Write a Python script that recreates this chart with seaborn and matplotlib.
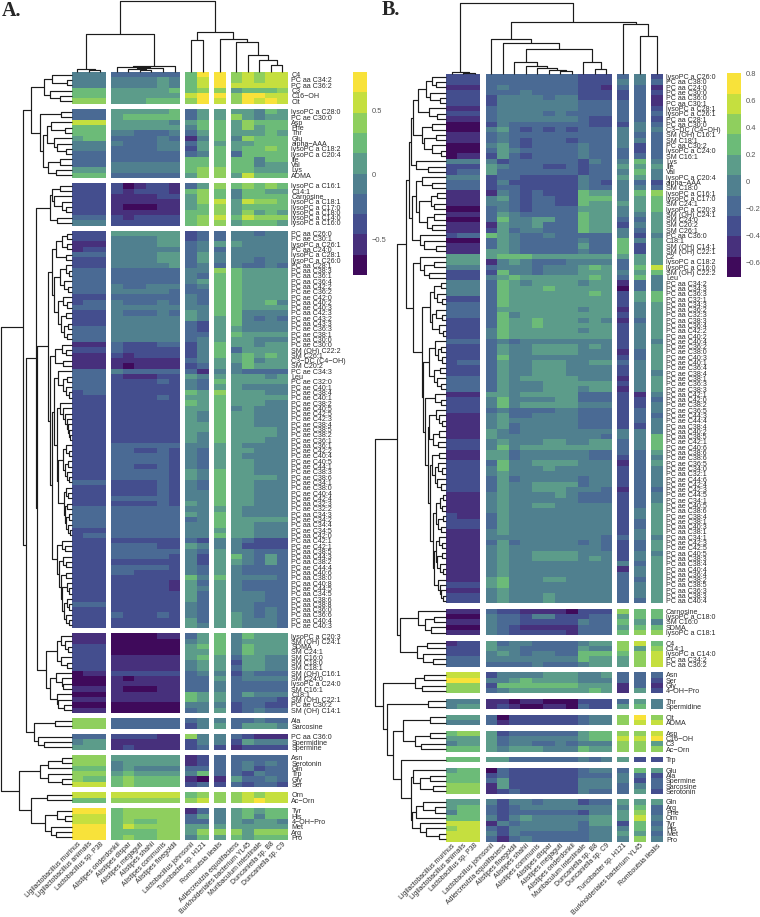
import numpy as np
import pandas as pd
import seaborn as sns
import matplotlib
matplotlib.use('Agg')
import matplotlib.pyplot as plt
from matplotlib.collections import LineCollection
from matplotlib.colors import ListedColormap

# ten colour bins, dark to light
BIN_COLORS = ['#3F0A5B', '#47307C', '#444E8E', '#4A6A94', '#50808F',
              '#5C9C8A', '#6CBB78', '#8FCF5E', '#C5DF3F', '#F8E23A']
A_BIN_VALUES = [-0.70, -0.54, -0.39, -0.23, -0.07, 0.09, 0.25, 0.41, 0.56, 0.72]
B_BIN_VALUES = [-0.63, -0.48, -0.33, -0.18, -0.03, 0.12, 0.27, 0.42, 0.57, 0.72]
A_TICKS = [-0.5, 0, 0.5]
A_TICK_LABELS = ['\u22120.5', '0', '0.5']
B_TICKS = [-0.6, -0.4, -0.2, 0, 0.2, 0.4, 0.6, 0.8]
B_TICK_LABELS = ['\u22120.6', '\u22120.4', '\u22120.2', '0', '0.2', '0.4', '0.6', '0.8']

A_COLUMNS = ['Ligilactobacillus murinus', 'Ligilactobacillus animalis', 'Lactobacillus sp. P38',
             'Alistipes onderdonkii', 'Alistipes dispar', 'Alistipes megaguti', 'Alistipes shahii',
             'Alistipes communis', 'Alistipes finegoldii', 'Lactobacillus johnsonii',
             'Turicibacter sp. H121', 'Romboutsia ilealis', 'Adlercreutzia equolifaciens',
             'Burkholderiales bacterium YL45', 'Muribaculum intestinale', 'Duncaniella sp. B8',
             'Duncaniella sp. C9']
B_COLUMNS = ['Ligilactobacillus murinus', 'Ligilactobacillus animalis', 'Lactobacillus sp. P38',
             'Lactobacillus johnsonii', 'Adlercreutzia equolifaciens', 'Alistipes finegoldii',
             'Alistipes shahii', 'Alistipes communis', 'Alistipes dispar', 'Alistipes megaguti',
             'Alistipes onderdonkii', 'Muribaculum intestinale', 'Duncaniella sp. B8',
             'Duncaniella sp. C9', 'Turicibacter sp. H121', 'Burkholderiales bacterium YL45',
             'Romboutsia ilealis']

# panel A, rows per cluster, one digit = colour bin of a cell
A_LABELS_1 = ['C4', 'PC aa C34:2', 'PC aa C36:2', 'C3', 'C16\u2212OH', 'Cit']
A_CELLS_1 = ['444 333333 69 9 78788', '444 444454 68 9 78788', '444 444454 68 9 88888',
             '666 555556 67 7 56667', '666 555555 89 9 79988', '777 555666 79 8 79898']
A_LABELS_2 = ['lysoPC a C28:0', 'PC ae C30:0', 'Asp', 'Phe', 'Thr', 'Glu', 'alpha\u2212AAA',
              'lysoPC a C18:2', 'lysoPC a C20:4', 'Ile', 'Val', 'Lys', 'ADMA']
A_CELLS_2 = ['333 555556 35 5 55465', '333 566666 35 5 75455', '888 555554 56 6 57666',
             '666 555555 46 6 57566', '666 443334 35 6 55565', '566 333343 14 6 47666',
             '444 433344 35 5 55666', '444 333344 25 6 56676', '333 333333 34 6 36666',
             '333 333333 66 6 66466', '333 444444 66 6 66455', '555 444444 67 7 66555',
             '666 333333 57 7 58666']
A_LABELS_3 = ['lysoPC a C16:1', 'C14:1', 'Carnosine', 'lysoPC a C18:1', 'lysoPC a C17:0',
              'lysoPC a C18:0', 'lysoPC a C14:0', 'lysoPC a C16:0']
A_CELLS_3 = ['222 201221 35 7 67676', '222 212221 67 6 46655', '222 111122 57 6 46666',
             '222 111111 57 8 58776', '222 100011 56 7 56666', '222 111111 66 7 57565',
             '333 212222 67 8 68777', '444 222222 67 7 56665']
A_LABELS_4 = ['PC aa C26:0', 'PC ae C30:1', 'lysoPC a C26:1', 'PC aa C24:0', 'lysoPC a C28:1',
              'lysoPC a C26:0', 'PC aa C28:1', 'PC aa C38:3', 'PC aa C36:1', 'PC aa C36:4',
              'PC aa C42:2', 'PC ae C36:2', 'PC ae C42:0', 'PC aa C40:2', 'PC ae C40:3',
              'PC aa C42:3', 'PC ae C43:2', 'PC aa C43:3', 'PC ae C36:3', 'PC ae C38:1',
              'PC aa C30:0', 'PC ae C30:0', 'SM (OH) C22:2', 'SM C26:1', 'C3\u2212DC (C4\u2212OH)',
              'SM C20:2', 'PC ae C34:3', 'Leu', 'PC ae C32:0', 'PC ae C40:1',
              'PC ae C38:4', 'PC ae C40:1', 'PC ae C38:2', 'PC ae C40:5', 'PC ae C42:5',
              'PC ae C42:3', 'PC ae C38:4', 'PC ae C38:5', 'PC ae C38:2', 'PC ae C36:1',
              'PC aa C36:1', 'PC ae C42:2', 'PC ae C40:4', 'PC ae C40:5', 'PC ae C44:1',
              'PC ae C38:3', 'PC ae C38:6', 'PC ae C34:1', 'PC ae C38:0', 'PC ae C40:4',
              'PC ae C42:4', 'PC aa C32:3', 'PC ae C32:2', 'PC aa C34:3', 'PC ae C34:2',
              'PC aa C34:4', 'PC ae C34:5', 'PC aa C42:0', 'PC aa C42:1', 'PC ae C42:1',
              'PC aa C38:5', 'PC aa C44:3', 'PC aa C38:2', 'PC ae C44:4', 'PC aa C40:6',
              'PC aa C38:0', 'PC aa C40:8', 'PC ae C44:5', 'PC aa C34:5', 'PC aa C38:6',
              'PC aa C38:8', 'PC aa C36:0', 'PC aa C36:6', 'PC aa C40:4', 'PC ae C40:3']
A_CELLS_4 = ['222 555555 23 3 44344', '222 444455 23 3 44444', '111 444455 34 5 54444',
             '122 444444 34 3 44444', '333 444455 35 4 44444', '222 444455 35 4 44344',
             '222 444445 34 3 43343', '333 333333 44 7 65555', '333 333333 43 6 65555',
             '333 333333 45 6 65555', '333 433444 34 6 65555', '333 444443 33 6 65555',
             '222 333333 43 6 65555', '233 433343 43 6 65564', '333 444444 44 6 65555',
             '222 433343 54 6 64444', '222 444444 54 5 64343', '222 444444 32 5 64444',
             '333 444444 32 5 54444', '333 444444 33 5 65555', '333 444444 34 5 55444',
             '111 322233 24 6 55455', '222 322222 24 6 35555', '111 212222 24 6 56565',
             '111 111111 34 5 56455', '111 101111 23 5 46555', '333 433333 31 4 43333',
             '333 211122 54 5 55545', '333 222232 43 6 55555', '333 222222 43 5 54444',
             '233 222222 65 7 55544', '222 222232 55 6 55555', '222 222222 65 6 55544',
             '222 222222 55 6 45444', '222 222222 54 6 55444', '222 222222 54 6 55444',
             '222 222222 55 6 55444', '222 222222 55 6 55554', '222 222222 54 6 55554',
             '222 222222 54 6 55544', '222 333333 44 5 54444', '222 332232 43 5 55444',
             '222 333332 43 5 54444', '222 333332 43 5 55444', '222 332232 43 5 55444',
             '222 333332 54 6 55444', '222 333332 54 6 55554', '333 222232 43 6 55444',
             '222 222232 43 6 55444', '222 222232 44 6 55444', '222 333332 44 6 55444',
             '222 222232 54 6 55444', '333 333333 44 5 54444', '333 333333 54 6 54444',
             '333 333333 34 6 55555', '333 333333 44 6 55444', '222 333333 44 5 55444',
             '233 333333 44 6 55444', '222 222222 32 4 43222', '222 333322 54 4 42222',
             '222 333333 43 5 44333', '222 333332 42 5 64353', '222 222222 42 5 54353',
             '222 333332 43 5 43333', '222 332222 43 5 43333', '222 222222 64 6 44443',
             '222 222221 53 5 43333', '222 222221 54 5 43333', '222 222222 53 5 44433',
             '222 222222 53 5 44433', '333 222222 43 5 44333', '222 222222 43 5 44343',
             '222 322232 43 5 54343', '222 222222 53 5 54443', '222 222222 54 5 54443']
A_LABELS_5 = ['lysoPC a C20:3', 'SM (OH) C24:1', 'SDMA', 'SM C24:1', 'SM C16:0', 'SM C18:0',
              'SM C18:1', 'SM (OH) C16:1', 'SM C24:0', 'lysoPC a C24:0', 'SM C16:1', 'C18:1',
              'SM (OH) C22:1', 'PC ae C30:2', 'SM (OH) C14:1']
A_CELLS_5 = ['111 000011 35 6 46555', '111 000000 45 6 45555', '222 000000 56 6 46555',
             '222 000000 55 6 46555', '222 111111 56 5 35544', '222 111111 45 5 25544',
             '222 111111 45 5 35544', '011 222222 34 4 24333', '000 101111 33 5 34444',
             '000 111111 33 4 33333', '111 100011 33 4 33333', '000 111111 65 5 35444',
             '111 111111 65 5 33332', '000 000000 44 4 23322', '111 000000 34 5 23433']
A_LABELS_6 = ['Ala', 'Sarcosine']
A_CELLS_6 = ['777 333333 34 4 33433', '777 333333 24 5 35554']
A_LABELS_7 = ['PC aa C36:0', 'Spermidine', 'Spermine']
A_CELLS_7 = ['333 222211 74 4 32111', '455 111111 24 4 25444', '555 121111 23 2 12222']
A_LABELS_8 = ['Asn', 'Serotonin', 'Gln', 'Trp', 'Gly', 'Ser']
A_CELLS_8 = ['777 555555 12 3 33333', '777 455555 12 3 34343', '666 454444 33 3 34233',
             '777 565555 46 3 32433', '766 676666 10 1 53343', '888 676666 23 2 32332']
A_LABELS_9 = ['Orn', 'Ac\u2212Orn']
A_CELLS_9 = ['888 888888 67 7 78788', '666 777777 78 7 78988']
A_LABELS_10 = ['Tyr', 'His', '4\u2212OH\u2212Pro', 'Met', 'Arg', 'Pro']
A_CELLS_10 = ['999 677777 13 4 56566', '888 677777 35 4 56466', '888 676677 33 4 54554',
              '999 687777 55 5 55555', '999 666677 57 7 75777', '999 676677 46 5 65666']

# panel B
B_LABELS_1 = ['lysoPC a C26:0', 'PC aa C38:0', 'PC aa C24:0', 'PC ae C30:0', 'PC aa C36:0',
              'PC aa C30:1', 'lysoPC a C28:1', 'lysoPC a C26:1', 'PC aa C28:1', 'PC aa C30:0',
              'C3\u2212DC (C4\u2212OH)', 'SM (OH) C16:1', 'SM C18:1', 'PC aa C30:2', 'lysoPC a C24:0',
              'SM C16:1', 'Lys', 'Ile', 'Val', 'lysoPC a C20:4', 'alpha\u2212AAA', 'SM C18:0',
              'lysoPC a C16:1', 'lysoPC a C17:0', 'SM C24:1', 'lysoPC a C20:3', 'SM (OH) C24:1',
              'SM C24:0', 'SM C20:2', 'SM C26:1', 'PC aa C36:0', 'C18:1', 'SM (OH) C14:1',
              'SM (OH) C22:1', 'C2', 'lysoPC a C18:2', 'lysoPC a C16:0', 'SM (OH) C22:2', 'Leu',
              'PC aa C34:2', 'PC aa C34:3', 'PC aa C36:3', 'PC aa C32:1', 'PC aa C34:3',
              'PC aa C36:2', 'PC aa C32:3', 'PC aa C38:3', 'PC aa C36:4', 'PC aa C42:2',
              'PC aa C40:2', 'PC ae C40:4', 'PC ae C36:2', 'PC ae C38:0', 'PC ae C40:3',
              'PC ae C40:1', 'PC ae C36:4', 'PC ae C38:4', 'PC ae C38:1', 'PC ae C36:3',
              'PC ae C38:3', 'PC aa C42:1', 'PC aa C42:0', 'PC ae C38:2', 'PC ae C36:5',
              'PC ae C44:3', 'PC ae C44:4', 'PC aa C38:4', 'PC aa C40:2', 'PC aa C38:5',
              'PC ae C42:1', 'PC ae C40:6', 'PC aa C38:6', 'PC ae C38:6', 'PC ae C36:5',
              'PC ae C34:0', 'PC aa C32:1', 'PC ae C44:6', 'PC ae C42:4', 'PC ae C42:3',
              'PC ae C44:5', 'PC ae C34:1', 'PC ae C40:5', 'PC aa C38:6', 'PC ae C38:4',
              'PC ae C38:1', 'PC aa C40:3', 'PC aa C38:1', 'PC aa C34:1', 'PC ae C42:3',
              'PC ae C42:5', 'PC aa C40:5', 'PC aa C38:3', 'PC aa C38:4', 'PC aa C40:4',
              'PC aa C36:4', 'PC ae C38:2', 'PC aa C38:5', 'PC aa C36:3', 'PC aa C38:3',
              'PC aa C40:4']
B_CELLS_1 = ['222 33333333222 3 4 2', '222 33333333222 4 4 3', '111 34333333221 3 3 1',
             '222 33343333222 2 3 2', '222 24444344222 2 3 1', '222 24444444333 3 3 1',
             '111 34444444333 3 3 2', '222 34444343333 3 3 3', '111 34444444322 3 3 2',
             '000 24333333322 2 4 3', '000 45323232333 4 4 4', '111 34333333333 4 3 3',
             '111 34323332333 4 4 3', '000 45323333433 4 2 3', '000 35433333433 3 2 3',
             '011 25323333433 3 3 3', '444 42333333243 4 6 4', '222 54333223233 5 5 5',
             '233 53333333233 4 6 4', '444 23322222433 5 5 4', '333 24222222432 4 3 2',
             '333 23322222433 4 4 3', '111 14323222655 4 6 7', '111 45323322666 4 5 6',
             '111 44323322655 5 5 6', '000 34323333555 4 5 6', '111 35433333655 4 4 5',
             '000 36445533655 3 3 5', '111 15445333655 2 4 5', '111 25344333655 4 3 5',
             '233 65433433333 4 2 4', '000 35433333433 6 4 5', '111 35433333533 6 2 5',
             '111 55433333433 6 2 5', '555 56665555555 5 5 5', '555 14543334444 3 5 5',
             '444 34443444565 3 6 8', '222 26443444555 4 5 6', '222 45655555565 3 6 4',
             '444 36545555455 1 3 4', '444 36555655555 0 3 4', '444 36555555565 2 5 6',
             '222 36555555555 2 5 6', '333 36555555555 2 4 5', '333 35555555455 1 4 5',
             '333 36455555555 2 4 5', '222 36556555454 1 3 5', '222 36556555555 2 4 5',
             '222 46555555455 2 4 5', '222 46555555555 2 4 5', '333 34344444444 2 4 4',
             '222 35445555454 2 4 5', '222 35445555444 1 3 5', '222 36444444444 2 3 5',
             '233 35445554455 3 4 5', '222 35445554444 2 4 5', '222 35445554444 2 4 4',
             '333 35455555444 1 4 5', '333 35444555555 2 4 5', '333 35444555455 1 4 5',
             '111 55455555333 2 1 4', '222 46444455333 2 2 3', '222 46455555444 2 2 4',
             '222 34333344333 2 3 4', '111 45334444333 2 3 3', '111 45444444333 2 3 4',
             '111 45344444333 2 2 4', '111 54344444444 4 4 4', '111 54444444443 4 4 6',
             '222 45444554455 3 4 6', '222 46455555555 3 4 6', '111 55344444433 3 3 5',
             '111 55344444433 2 3 4', '222 36445555444 1 3 5', '222 46444544444 2 3 4',
             '222 45444444444 2 3 4', '222 35344444344 2 3 4', '222 35445555344 2 3 4',
             '222 35445554443 1 3 3', '111 45444454333 2 3 4', '111 45444444333 2 3 4',
             '111 45445544444 2 3 5', '111 45444444444 2 4 5', '211 35444444444 2 4 5',
             '222 35444444444 2 3 5', '222 35444444444 2 3 5', '111 45444444444 2 4 5',
             '111 44444444443 3 4 4', '111 35344444343 2 3 5', '111 45444444443 2 3 5',
             '111 45445555444 2 4 4', '111 45445555454 2 4 5', '111 45444444444 4 3 5',
             '111 45444444444 1 4 5', '111 45444444444 3 4 5', '111 56444554444 3 3 5',
             '222 56444444444 3 4 5', '111 45444444444 3 4 5', '222 45444544444 3 4 5',
             '222 45444544444 3 3 5']
B_LABELS_2 = ['Carnosine', 'lysoPC a C18:0', 'SM C16:0', 'SDMA', 'lysoPC a C18:1']
B_CELLS_2 = ['111 32211110222 7 6 6', '000 43324422233 5 6 6', '111 43322222433 6 5 4',
             '000 43211111333 5 6 6', '111 43222221333 6 7 7']
B_LABELS_3 = ['C4', 'C14:1', 'lysoPC a C14:0', 'PC aa C34:2', 'PC aa C36:2']
B_CELLS_3 = ['122 53443333455 7 8 6', '222 54433333544 7 5 7', '222 45434433666 6 7 8',
             '333 44444444655 5 7 8', '333 33334333455 5 7 8']
B_LABELS_4 = ['Asn', 'Ser', 'Gly', '4\u2212OH\u2212Pro']
B_CELLS_4 = ['888 24444555445 3 3 3', '999 44565555444 3 3 2', '777 26666666555 1 3 1',
             '777 34555555565 1 5 2']
B_LABELS_5 = ['Thr', 'Spermidine']
B_CELLS_5 = ['444 11011000222 3 5 4', '455 12100110322 5 6 4']
B_LABELS_6 = ['Cit', 'ADMA']
B_CELLS_6 = ['555 30222222344 7 9 7', '444 31222222344 7 8 8']
B_LABELS_7 = ['Asp', 'C16\u2212OH', 'C3', 'Ac\u2212Orn']
B_CELLS_7 = ['677 52333333566 7 7 8', '555 53444444566 8 8 9', '455 53443343444 7 7 5',
             '666 54555444655 7 7 7']
B_LABELS_8 = ['Trp']
B_CELLS_8 = ['666 55333333434 5 2 2']
B_LABELS_9 = ['Glu', 'Ala', 'Spermine', 'Sarcosine', 'Serotonin']
B_CELLS_9 = ['566 03222222344 3 6 5', '666 23222222333 4 3 2', '666 35222222444 4 2 3',
             '777 15222222444 3 4 3', '777 12322222433 3 5 2']
B_LABELS_10 = ['Gln', 'Arg', 'Phe', 'Orn', 'Tyr', 'His', 'Met', 'Pro']
B_CELLS_10 = ['555 42443444233 5 5 5', '566 32344444444 4 6 3', '466 32333333244 5 7 3',
              '666 42454444455 5 8 4', '888 14344444355 2 6 3', '788 32444444344 4 6 4',
              '888 42433333344 5 5 3', '888 31343333344 4 7 4']

# dendrograms: [height, left, right], 0 is a leaf, heights in picture pixels
A_COL_TREE = [70.7, [38, [3, 0, [1.3, 0, 0]],
                     [6, [4.5, 0, [3.5, [2.5, 0, [1.2, 0, 0]], 0]], 0]],
              [40, [32, 0, 0], [33, 0, [29.5, 0, [17, 0, [12, 0, [7, 0, 0]]]]]]]
B_COL_TREE = [70.7, [2, 0, [1, 0, 0]],
              [52, [35, 0, [31, 0, [25, [12, 0, [7.3, 0, [5.7, 0, [4, 0, [2.7, 0, 0]]]]],
                                    [12, 0, [4.5, 0, 0]]]]],
               [50, 0, [38, 0, 0]]]]

A_TREE_1 = [28, [20, 0, [5, 0, 0]], [22, 0, [12, 0, 0]]]
A_TREE_2 = [32, [11, 0, 0], [29, [25, [21, 0, [7, 0, 0]], [18, 0, [15, 0, [6, 0, 0]]]],
                             [24, [12, 0, 0], [16, 0, 0]]]]
A_TREE_3 = [22, [20, [12, 0, 0], [18, 0, [10, 0, [6, 0, 0]]]], [15, 0, 0]]
A_TREE_4 = [24,
            [20, [16, [10, [5, 0, 0], [5, 0, 0]], [6, 0, 0]],
             [18, [12, [6, 0, [3, 0, 0]], [8, 0, [4, 0, 0]]],
              [14, [9, 0, [5, 0, 0]], [11, [6, 0, 0], [8, [4, 0, 0], [5, 0, 0]]]]]],
            [22, [17, [10, 0, [6, 0, 0]], [9, 0, 0]],
             [20, [18, [14, 0, [9, [5, 0, 0], [6, 0, [3, 0, 0]]]],
                   [15, [12, 0, [9, 0, [7, 0, [5, 0, [4, 0, [3, 0, [2, 0, 0]]]]]]],
                    [13.5, [9, [6, 0, [3, 0, 0]], [7, [4, 0, 0], [5, 0, [3, 0, 0]]]],
                     [8, [6, 0, [4, 0, 0]], [7, [5, 0, 0], [6, [3, 0, 0], [4, 0, [2, 0, 0]]]]]]]],
              [15, [10, 0, [7, 0, 0]],
               [13, [9, 0, [6, 0, 0]],
                [11, [6, 0, 0], [9.5, [5, 0, [3, 0, 0]],
                                 [8, [5, 0, [3, 0, 0]], [6, 0, [3, 0, 0]]]]]]]]]]
A_TREE_5 = [26, [15, [11, 0, [7, 0, [4, 0, 0]]], [11, 0, [5, 0, 0]]],
            [22, [16, 0, [10, 0, [9, 0, 0]]], [15, 0, [14, 0, [8, 0, 0]]]]]
A_TREE_6 = [17, 0, 0]
A_TREE_7 = [34, 0, [28, 0, 0]]
A_TREE_8 = [32, [24, [10, 0, 0], 0], [24, 0, [10, 0, 0]]]
A_TREE_9 = [25, 0, 0]
A_TREE_10 = [27, [15, 0, [7, 0, 0]], [21, 0, [16, 0, 0]]]
A_ROW_TREE = [70.7,
              [49, [41, A_TREE_1, A_TREE_2],
               [46, [36, A_TREE_3, [35, A_TREE_4, A_TREE_5]], [38, A_TREE_6, A_TREE_7]]],
              [52.4, A_TREE_8, [40.7, A_TREE_9, A_TREE_10]]]

B_TREE_1 = [40,
            [37,
             [35, [33, [28, [20, [14, 0, [10, 0, 0]], [16, 0, [6, 0, 0]]], [17, 0, [9, 0, 0]]],
                   [24, [14, 0, 0], [22, [10, 0, 0], [14, 0, [5, 0, 0]]]]],
              [30, 0, [18, 0, 0]]],
             [34, [30, [24, 0, [14, 0, 0]],
                   [27, [15, [9, 0, 0], [12, 0, 0]], [19, [12, 0, 0], [14, 0, 0]]]],
              [26, 0, [22, 0, [10, 0, 0]]]]],
            [33, [26, 0, [22, [12, 0, 0], [17, 0, 0]]],
             [24, [16, [12, [5, 0, 0], [9, 0, [4, 0, 0]]], [14, [10, 0, [4, 0, 0]], [7, 0, [3, 0, 0]]]],
              [23, [17, [11, 0, [8, [5, 0, 0], [4, 0, 0]]], [12, [6, 0, 0], [9, 0, [5, 0, 0]]]],
               [21, [11, 0, [5, 0, 0]],
                [18, [17, [10, 0, [7, 0, [4, 0, 0]]], [13, [7, 0, 0], [8, 0, 0]]],
                 [16.5, [14, [7, 0, 0], [11, [8, 0, [4, 0, 0]], [9, 0, [5, 0, 0]]]],
                  [13, [10, [6, [3, 0, 0], [4, 0, 0]], [8, [3, 0, 0], [5, 0, 0]]],
                   [12, [10, [7, 0, [4, 0, 0]], [9, [4, 0, 0], [6, 0, [3, 0, 0]]]],
                    [8, 0, [6, 0, [5, 0, [3, 0, 0]]]]]]]]]]]]]
B_TREE_2 = [28, 0, [21, [12, 0, 0], [15, 0, 0]]]
B_TREE_3 = [29, [19, 0, 0], [23, 0, [13, 0, 0]]]
B_TREE_4 = [31, [22, 0, 0], [24, 0, 0]]
B_TREE_5 = [18, 0, 0]
B_TREE_6 = [16, 0, 0]
B_TREE_7 = [31, [16, 0, 0], [25, 0, 0]]
B_TREE_9 = [33, 0, [26, [16, 0, 0], [13, 0, 0]]]
B_TREE_10 = [34, [30, [23, 0, [11, 0, 0]], 0], [26, 0, [20, 0, [7, 0, 0]]]]
B_ROW_TREE = [71,
              [49.3, B_TREE_1, [46, B_TREE_2, B_TREE_3]],
              [63.3, B_TREE_4,
               [59, B_TREE_5, [53, [43, B_TREE_6, B_TREE_7],
                               [45, 0, [35, B_TREE_9, B_TREE_10]]]]]]

W, H = 760, 917


def to_frame(cell_blocks, label_blocks, bin_values, columns):
    # stack clusters with one empty row between them
    rows, labels = [], []
    for i, (cells, names) in enumerate(zip(cell_blocks, label_blocks)):
        if i > 0:
            rows.append([np.nan] * len(columns))
            labels.append('')
        for c, name in zip(cells, names):
            digits = c.replace(' ', '')
            rows.append([bin_values[int(d)] for d in digits])
            labels.append(name)
    return pd.DataFrame(rows, index=labels, columns=columns)


def px_axes(fig, x0, y0, x1, y1):
    return fig.add_axes([x0 / W, 1 - y1 / H, (x1 - x0) / W, (y1 - y0) / H])


def tree_segments(node, leaves, base, vertical, segs):
    # walk the tree, leaves are taken in order from the list of positions
    if node == 0:
        return leaves.pop(0), 0
    a, ha = tree_segments(node[1], leaves, base, vertical, segs)
    b, hb = tree_segments(node[2], leaves, base, vertical, segs)
    h = node[0]
    if vertical:
        segs.append([(a, base - ha), (a, base - h), (b, base - h), (b, base - hb)])
    else:
        segs.append([(base - ha, a), (base - h, a), (base - h, b), (base - hb, b)])
    return (a + b) / 2, h


def draw_panel(fig, overlay, df, vmin, vmax, col_blocks, top, bottom, row_tree, col_tree,
               cbar_box, ticks, tick_labels):
    cmap = ListedColormap(BIN_COLORS)
    col_pos = []
    start = 0
    for n, (x0, x1, size) in enumerate(col_blocks):
        ax = px_axes(fig, x0, top, x1, bottom)
        sub = df.iloc[:, start:start + size]
        last = n == len(col_blocks) - 1
        sns.heatmap(sub, ax=ax, cmap=cmap, vmin=vmin, vmax=vmax, cbar=False,
                    xticklabels=True, yticklabels=list(df.index) if last else False)
        ax.tick_params(length=0, labelsize=5.1, pad=0.5)
        ax.set_xticklabels(sub.columns, rotation=45, ha='right', rotation_mode='anchor',
                           fontsize=4.95, color='#2a2a2a')
        if last:
            ax.yaxis.tick_right()
            ax.set_yticklabels(df.index, rotation=0, fontsize=5.1, color='#2a2a2a')
            ax.tick_params(axis='y', length=0, pad=2.4)
        step = (x1 - x0) / size
        col_pos += [x0 + step * (k + 0.5) for k in range(size)]
        start += size

    # legend bar, drawn by a throwaway heatmap so that it shares cmap and limits
    cax = px_axes(fig, *cbar_box)
    holder = fig.add_axes([0, 0, 0.001, 0.001])
    sns.heatmap(df.iloc[:2, :2], ax=holder, cmap=cmap, vmin=vmin, vmax=vmax, cbar_ax=cax,
                cbar_kws={'ticks': ticks}, xticklabels=False, yticklabels=False)
    holder.set_visible(False)
    cax.set_yticklabels(tick_labels, fontsize=5.4, color='#555555')
    cax.tick_params(length=0, pad=3.5)
    for s in cax.spines.values():
        s.set_visible(False)

    rh = (bottom - top) / len(df)
    row_pos = [top + rh * (i + 0.5) for i, name in enumerate(df.index) if name != '']
    segs = []
    tree_segments(row_tree, list(row_pos), col_blocks[0][0], False, segs)
    tree_segments(col_tree, list(col_pos), top - 0.5, True, segs)
    overlay.add_collection(LineCollection(segs, colors='#1c1c1c', linewidths=0.85))


sns.set_style('white')
plt.rcParams['font.family'] = ['Liberation Sans', 'DejaVu Sans']

fig = plt.figure(figsize=(W / 100, H / 100), dpi=100)
overlay = fig.add_axes([0, 0, 1, 1], zorder=5)
overlay.set_xlim(0, W)
overlay.set_ylim(H, 0)
overlay.axis('off')

df_a = to_frame([A_CELLS_1, A_CELLS_2, A_CELLS_3, A_CELLS_4, A_CELLS_5,
                 A_CELLS_6, A_CELLS_7, A_CELLS_8, A_CELLS_9, A_CELLS_10],
                [A_LABELS_1, A_LABELS_2, A_LABELS_3, A_LABELS_4, A_LABELS_5,
                 A_LABELS_6, A_LABELS_7, A_LABELS_8, A_LABELS_9, A_LABELS_10],
                A_BIN_VALUES, A_COLUMNS)
df_b = to_frame([B_CELLS_1, B_CELLS_2, B_CELLS_3, B_CELLS_4, B_CELLS_5,
                 B_CELLS_6, B_CELLS_7, B_CELLS_8, B_CELLS_9, B_CELLS_10],
                [B_LABELS_1, B_LABELS_2, B_LABELS_3, B_LABELS_4, B_LABELS_5,
                 B_LABELS_6, B_LABELS_7, B_LABELS_8, B_LABELS_9, B_LABELS_10],
                B_BIN_VALUES, B_COLUMNS)

draw_panel(fig, overlay, df_a, -0.78, 0.80,
           [(71.7, 106, 3), (111, 180.3, 6), (185.3, 208.7, 2), (213.7, 225.7, 1), (230.7, 288, 5)],
           72, 840, A_ROW_TREE, A_COL_TREE, (353.3, 72, 366.7, 275), A_TICKS, A_TICK_LABELS)
draw_panel(fig, overlay, df_b, -0.71, 0.80,
           [(446, 480.3, 3), (485.7, 612, 11), (617.3, 628.7, 1), (634, 645.7, 1), (651, 662.7, 1)],
           74, 841.7, B_ROW_TREE, B_COL_TREE, (727.3, 73.3, 741, 277), B_TICKS, B_TICK_LABELS)

fig.text(2 / W, 1 - 16 / H, 'A.', family='Liberation Serif', weight='bold', fontsize=14.5)
fig.text(382 / W, 1 - 15 / H, 'B.', family='Liberation Serif', weight='bold', fontsize=14.5)

fig.savefig('out.png', dpi=100)
